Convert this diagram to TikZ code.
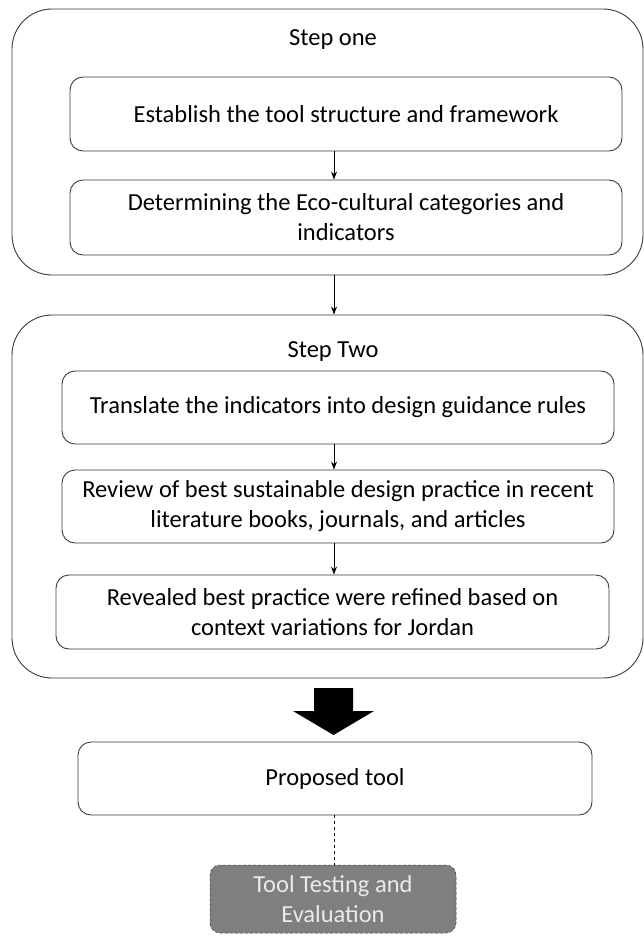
\documentclass[tikz,border=0pt]{standalone}
\usepackage{fontspec}
\setmainfont{Carlito}
\usetikzlibrary{arrows.meta}
\definecolor{boxgray}{HTML}{7F7F7F}
\definecolor{edgegray}{HTML}{3A3A3A}
\begin{document}
\begin{tikzpicture}[x=1pt,y=-1pt,
  outerbox/.style={draw=edgegray,line width=0.9pt,rounded corners=40pt,inner sep=0pt},
  innerbox/.style={draw=edgegray,line width=0.9pt,rounded corners=13pt,inner sep=0pt,
    align=center,font=\fontsize{24.5}{30}\selectfont},
  steplabel/.style={font=\fontsize{24.5}{30}\selectfont},
  conn/.style={line width=0.8pt,-{Stealth[length=8pt,width=6pt]}},
  bigarrow/.style={fill=black},
  evalbox/.style={draw=edgegray,densely dashed,line width=0.5pt,fill=boxgray,rounded corners=10pt,
    inner sep=0pt,align=center,text=white!92!black,font=\fontsize{24.5}{30}\selectfont}
]
\useasboundingbox (0,0) rectangle (644,936);
% Step one
\node[outerbox,minimum width=631pt,minimum height=266pt] (s1) at (327.5,142) {};
\node[steplabel] (s1t) at (333,40) {Step one};
\node[innerbox,minimum width=552pt,minimum height=74pt] (b1) at (346,114) {Establish the tool structure and framework};
\node[innerbox,minimum width=552pt,minimum height=75pt] (b2) at (346,217.5) {Determining the Eco-cultural categories and\\indicators};
\draw[conn] (b1.south -| 334,0) -- (b2.north -| 334,0);
% Step two
\node[outerbox,minimum width=631pt,minimum height=363pt] (s2) at (327.5,496.5) {};
\node[steplabel] (s2t) at (333,352) {Step Two};
\node[innerbox,minimum width=552pt,minimum height=73pt] (b3) at (338,407.5) {Translate the indicators into design guidance rules};
\node[innerbox,minimum width=552pt,minimum height=73pt] (b4) at (338,506.5) {Review of best sustainable design practice in recent\\literature books, journals, and articles};
\node[innerbox,minimum width=553pt,minimum height=74pt] (b5) at (332.5,612) {Revealed best practice were refined based on\\context variations for Jordan};
\draw[conn] (s1.south -| 334,0) -- (s2.north -| 334,0);
\draw[conn] (b3.south -| 334,0) -- (b4.north -| 334,0);
\draw[conn] (b4.south -| 334,0) -- (b5.north -| 334,0);
% big arrow
\fill[bigarrow] (314,688) -- (353,688) -- (353,711) -- (374,711) -- (333.5,735) -- (293,711) -- (314,711) -- cycle;
% Proposed tool
\node[innerbox,minimum width=514pt,minimum height=73pt] (pt) at (335,778.5) {Proposed tool};
\node[evalbox,minimum width=246pt,minimum height=68pt] (ev) at (333,899) {Tool Testing and\\Evaluation};
\draw[line width=0.8pt,dashed] (pt.south -| 334,0) -- (ev.north -| 334,0);
\end{tikzpicture}
\end{document}
